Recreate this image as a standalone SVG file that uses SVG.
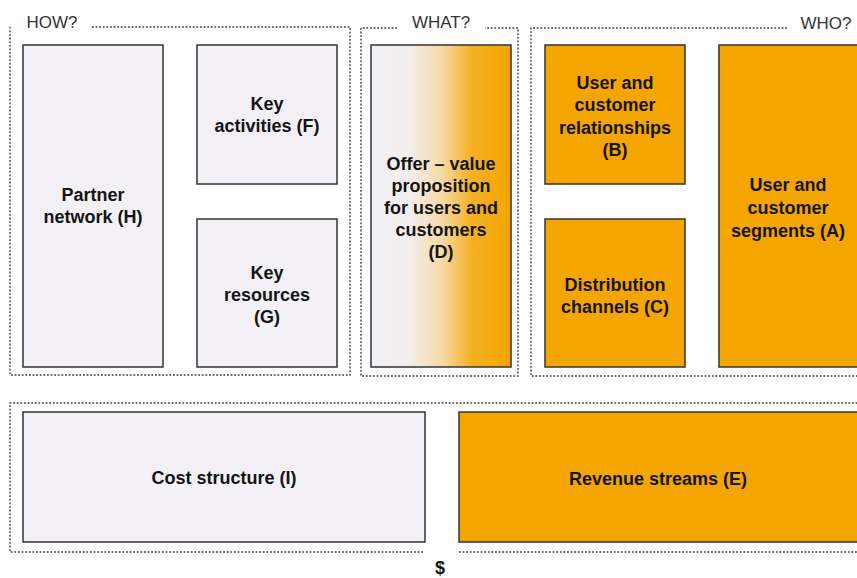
<svg xmlns="http://www.w3.org/2000/svg" width="857" height="578" viewBox="0 0 857 578">
<defs>
<linearGradient id="offerGrad" x1="0" y1="0" x2="1" y2="0">
<stop offset="0" stop-color="#F2F0F5"/>
<stop offset="0.28" stop-color="#F3EEEE"/>
<stop offset="0.5" stop-color="#F6DBA8"/>
<stop offset="0.72" stop-color="#F5B023"/>
<stop offset="1" stop-color="#F5A500"/>
</linearGradient>
</defs>
<style>
.frame{fill:none;stroke:#3a3a3a;stroke-width:1.4;stroke-dasharray:1.8 1.8}
.box{stroke:#333;stroke-width:1.5}
.light{fill:#F3F1F6}
.orange{fill:#F5A500}
.lbl{font-family:"Liberation Sans",Arial,sans-serif;font-weight:bold;font-size:18px;fill:#141414;text-anchor:middle}
.hdr{font-family:"Liberation Sans",Arial,sans-serif;font-size:17px;fill:#333;text-anchor:middle}
</style>
<rect width="857" height="578" fill="#ffffff"/>
<g id="frames">
<path class="frame" d="M92,27 H350 V375 H10 V27"/>
<text class="hdr" x="52" y="28">HOW?</text>
<path class="frame" d="M397,28 H361 V376 H518 V28 H485"/>
<text class="hdr" x="441" y="28">WHAT?</text>
<path class="frame" d="M787,28 H531 V376 H857"/>
<text class="hdr" x="826" y="29">WHO?</text>
<path class="frame" d="M423,552 H10 V403 H857"/>
<path class="frame" d="M459,552 H857"/>
<text class="lbl" x="440" y="574">$</text>
</g>
<g id="partner-network">
<rect class="box light" x="23" y="45" width="140" height="322"/>
<text class="lbl" x="93" y="201">Partner</text>
<text class="lbl" x="93" y="223">network (H)</text>
</g>
<g id="key-activities">
<rect class="box light" x="197" y="45" width="140" height="139"/>
<text class="lbl" x="267" y="110">Key</text>
<text class="lbl" x="267" y="132">activities (F)</text>
</g>
<g id="key-resources">
<rect class="box light" x="197" y="219" width="140" height="148"/>
<text class="lbl" x="267" y="279">Key</text>
<text class="lbl" x="267" y="301">resources</text>
<text class="lbl" x="267" y="323">(G)</text>
</g>
<g id="offer">
<rect class="box" fill="url(#offerGrad)" x="371" y="45" width="140" height="322"/>
<text class="lbl" x="441" y="170">Offer – value</text>
<text class="lbl" x="441" y="192">proposition</text>
<text class="lbl" x="441" y="214">for users and</text>
<text class="lbl" x="441" y="236">customers</text>
<text class="lbl" x="441" y="258">(D)</text>
</g>
<g id="relationships">
<rect class="box orange" x="545" y="45" width="140" height="139"/>
<text class="lbl" x="615" y="89">User and</text>
<text class="lbl" x="615" y="111">customer</text>
<text class="lbl" x="615" y="134">relationships</text>
<text class="lbl" x="615" y="156">(B)</text>
</g>
<g id="channels">
<rect class="box orange" x="545" y="219" width="140" height="148"/>
<text class="lbl" x="615" y="291">Distribution</text>
<text class="lbl" x="615" y="313">channels (C)</text>
</g>
<g id="segments">
<rect class="box orange" x="719" y="45" width="140" height="322"/>
<text class="lbl" x="788" y="191">User and</text>
<text class="lbl" x="788" y="214">customer</text>
<text class="lbl" x="788" y="237">segments (A)</text>
</g>
<g id="cost-structure">
<rect class="box light" x="23" y="412" width="402" height="130"/>
<text class="lbl" x="224" y="484">Cost structure (I)</text>
</g>
<g id="revenue-streams">
<rect class="box orange" x="459" y="412" width="402" height="130"/>
<text class="lbl" x="658" y="485">Revenue streams (E)</text>
</g>
<g id="connectors"></g>
</svg>
